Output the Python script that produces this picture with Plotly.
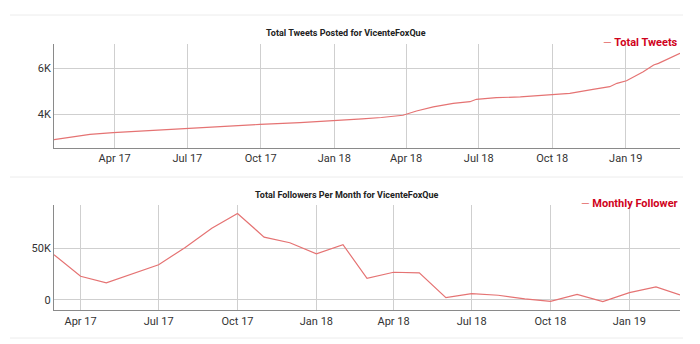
import plotly.graph_objects as go
from plotly.subplots import make_subplots

# ---- data ----
tweet_dates = ["2017-01-15", "2017-03-01", "2017-03-30", "2017-05-15", "2017-07-01",
               "2017-07-30", "2017-09-30", "2017-11-19", "2017-12-30", "2018-01-21",
               "2018-02-05", "2018-03-01", "2018-03-28", "2018-04-14", "2018-05-05",
               "2018-05-30", "2018-06-20", "2018-06-28", "2018-07-23", "2018-08-22",
               "2018-09-30", "2018-10-23", "2018-11-21", "2018-12-12", "2018-12-21",
               "2019-01-02", "2019-01-23", "2019-02-05", "2019-02-11", "2019-03-10"]
tweet_totals = [2900, 3130, 3205, 3300, 3395,
                3435, 3560, 3640, 3710, 3755,
                3800, 3860, 3957, 4140, 4320,
                4470, 4544, 4648, 4717, 4750,
                4834, 4907, 5080, 5192, 5339,
                5451, 5840, 6130, 6201, 6635]

follower_months = ["2017-03-01", "2017-04-01", "2017-05-01", "2017-06-01", "2017-07-01",
                   "2017-08-01", "2017-09-01", "2017-10-01", "2017-11-01", "2017-12-01",
                   "2018-01-01", "2018-02-01", "2018-03-01", "2018-04-01", "2018-05-01",
                   "2018-06-01", "2018-07-01", "2018-08-01", "2018-09-01", "2018-10-01",
                   "2018-11-01", "2018-12-01", "2019-01-01", "2019-02-01", "2019-03-01"]
monthly_followers = [43800, 23000, 16600, 25500, 34100,
                     51000, 69500, 83800, 61000, 55500,
                     44800, 53600, 21100, 26900, 26300,
                     2300, 6200, 4600, 1000, -1300,
                     5500, -1600, 7100, 12700, 4900]

x_tick_vals = ["2017-04-01", "2017-07-01", "2017-10-01", "2018-01-01",
               "2018-04-01", "2018-07-01", "2018-10-01", "2019-01-01"]
x_tick_text = ["Apr 17", "Jul 17", "Oct 17", "Jan 18", "Apr 18", "Jul 18", "Oct 18", "Jan 19"]
top_y_vals = [4000, 6000]
top_y_text = ["4K", "6K"]
bot_y_vals = [0, 50000]
bot_y_text = ["0", "50K"]

title_top = "Total Tweets Posted for VicenteFoxQue"
title_bot = "Total Followers Per Month for VicenteFoxQue"
legend_top = "Total Tweets"
legend_bot = "Monthly Follower"

# ---- styles ----
W, H = 700, 344
LINE = "#e57373"
LEG_TXT = "#d0021b"
GRID = "#cfcfcf"
AXIS = "#8a8a8a"
FONT = "Roboto"

def py(px):
    return 1 - px / H

fig = go.Figure()
fig.add_trace(go.Scatter(x=tweet_dates, y=tweet_totals, mode="lines",
                         line=dict(color=LINE, width=1.2), xaxis="x", yaxis="y",
                         name=legend_top, showlegend=False))
fig.add_trace(go.Scatter(x=follower_months, y=monthly_followers, mode="lines",
                         line=dict(color=LINE, width=1.2), xaxis="x2", yaxis="y2",
                         name=legend_bot, showlegend=False))

xd = [54 / W, 680 / W]
common_x = dict(tickvals=x_tick_vals, ticktext=x_tick_text, showgrid=True, gridcolor=GRID,
                gridwidth=1, showline=True, linecolor=AXIS, linewidth=1, ticks="",
                tickfont=dict(family=FONT, size=11, color="#333"), zeroline=False,
                domain=xd)
common_y = dict(showgrid=True, gridcolor=GRID, gridwidth=1, showline=True, linecolor=AXIS,
                linewidth=1, ticks="", tickfont=dict(family=FONT, size=11, color="#333"),
                zeroline=False)

fig.update_layout(
    width=W, height=H, margin=dict(l=0, r=0, t=0, b=0),
    paper_bgcolor="white", plot_bgcolor="white",
    xaxis=dict(**common_x, anchor="y", range=["2017-01-15", "2019-03-10"]),
    yaxis=dict(**common_y, anchor="x", domain=[py(148), py(44)], range=[2540, 7040],
               tickvals=top_y_vals, ticktext=top_y_text),
    xaxis2=dict(**common_x, anchor="y2", range=["2017-03-01", "2019-03-01"]),
    yaxis2=dict(**common_y, anchor="x2", domain=[py(310.3), py(204.7)], range=[-10000, 92400],
                tickvals=bot_y_vals, ticktext=bot_y_text),
    showlegend=False,
)

# titles
for txt, ypx in [(title_top, 33), (title_bot, 194.7)]:
    fig.add_annotation(text="<b>" + txt + "</b>", x=346 / W, y=py(ypx), xref="paper", yref="paper",
                       showarrow=False, xanchor="center", yanchor="middle",
                       font=dict(family=FONT, size=9, color="#222"))

# legends
for txt, ypx in [(legend_top, 42.5), (legend_bot, 203.7)]:
    fig.add_annotation(text="<span style='color:%s'>—</span> <b>%s</b>" % (LINE, txt),
                       x=680 / W, y=py(ypx), xref="paper", yref="paper",
                       showarrow=False, xanchor="right", yanchor="middle",
                       font=dict(family=FONT, size=11, color=LEG_TXT))

# separator lines
for ypx in [15, 177, 338]:
    fig.add_shape(type="line", xref="paper", yref="paper", x0=10 / W, x1=683 / W,
                  y0=py(ypx), y1=py(ypx), line=dict(color="#ececec", width=1))

fig.write_html("out.html")
